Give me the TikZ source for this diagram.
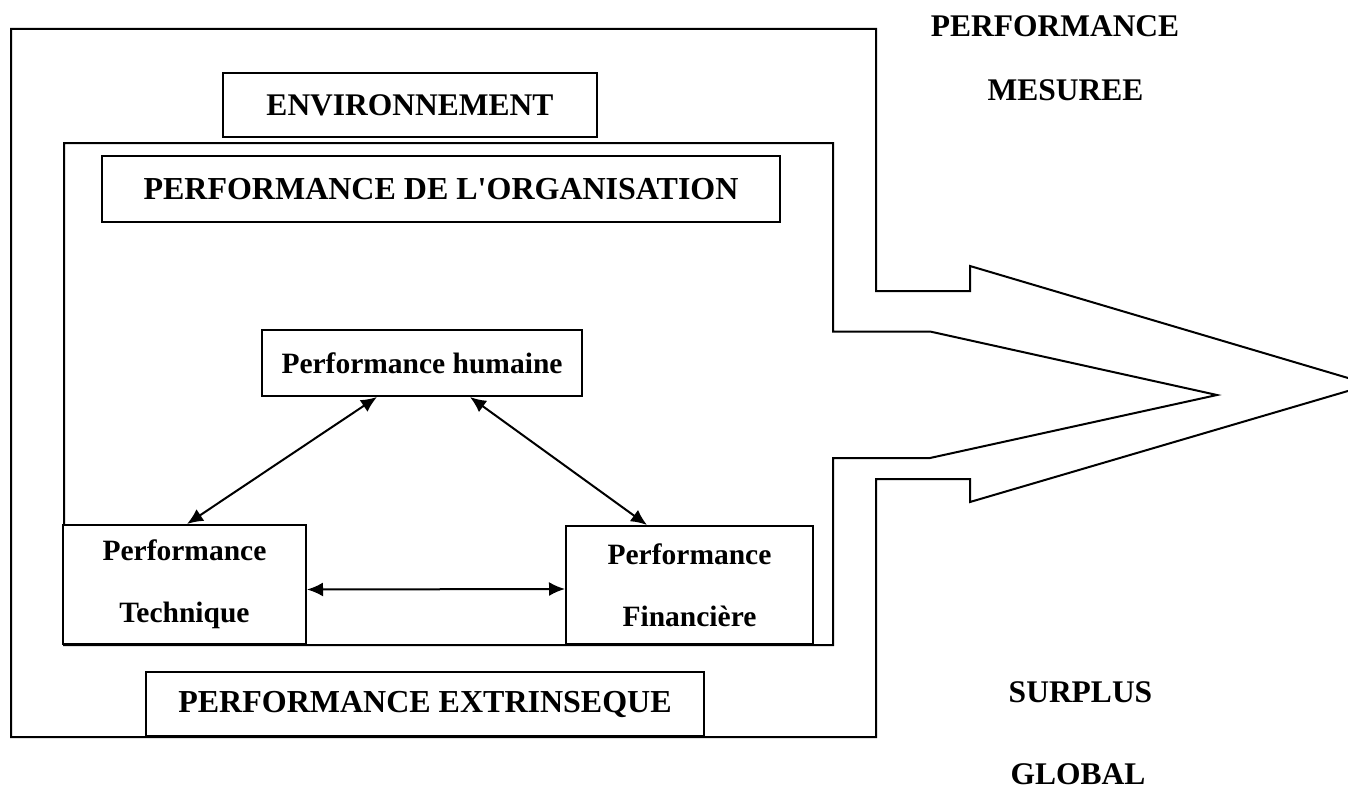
\documentclass[tikz,border=0pt]{standalone}
\usepackage{fontspec}
\setmainfont{Liberation Serif}[Ligatures=TeXOff]
\usetikzlibrary{arrows.meta}
\begin{document}
\begin{tikzpicture}[x=1pt,y=-1pt,
  frame/.style={line width=2pt,line join=miter},
  box/.style={draw,line width=2pt,fill=white,inner sep=0pt,align=center,font=\bfseries},
  big/.style={font=\fontsize{31.5}{36}\selectfont\bfseries},
  wide/.style={font=\fontsize{32}{36}\selectfont\bfseries},
  small/.style={font=\fontsize{29.5}{62}\selectfont\bfseries},
  link/.style={line width=2pt,{Latex[length=16pt,width=14pt]}-{Latex[length=16pt,width=14pt]}}]
\useasboundingbox (0,0) rectangle (1348,789);

% outer frame ending in the large arrow
\draw[frame] (11,29) -- (876,29) -- (876,291) -- (970,291) -- (970,266)
  -- (1370,384.5) -- (970,502) -- (970,479) -- (876,479) -- (876,737)
  -- (11,737) -- cycle;

% inner frame ending in the small arrow
\draw[frame] (64,143) -- (833,143) -- (833,331.5) -- (930,331.5)
  -- (1217,395) -- (930,458) -- (833,458) -- (833,645) -- (64,645) -- cycle;

% boxes
\node[box,big,minimum width=374pt,minimum height=64pt] (env) at (410,105) {ENVIRONNEMENT};
\node[box,wide,minimum width=678pt,minimum height=66pt] (org) at (441,189) {PERFORMANCE DE L'ORGANISATION};
\node[box,small,minimum width=320pt,minimum height=66pt] (hum) at (422,363) {Performance humaine};
\node[box,small,minimum width=243pt,minimum height=119pt] (tech) at (184.5,584.5) {Performance\\Technique};
\node[box,small,minimum width=247pt,minimum height=118pt] (fin) at (689.5,585) {Performance\\Financière};
\node[box,wide,minimum width=558pt,minimum height=64pt] (ext) at (425,704) {PERFORMANCE EXTRINSEQUE};

% labels outside the frames
\node[big,inner sep=0pt] (pm1) at (1055,26) {PERFORMANCE};
\node[big,inner sep=0pt] (pm2) at (1065.5,90) {MESUREE};
\node[big,inner sep=0pt] (sg1) at (1080.5,692.5) {SURPLUS};
\node[big,inner sep=0pt] (sg2) at (1078,774) {GLOBAL};

% links between the three performances
\draw[link] ([xshift=-45pt]hum.south) -- ([xshift=2.5pt]tech.north);
\draw[link] ([xshift=48pt]hum.south) -- ([xshift=-42.5pt]fin.north);
\draw[link] ([yshift=-5pt]tech.east) -- ([yshift=-4pt]fin.west);
\end{tikzpicture}
\end{document}
